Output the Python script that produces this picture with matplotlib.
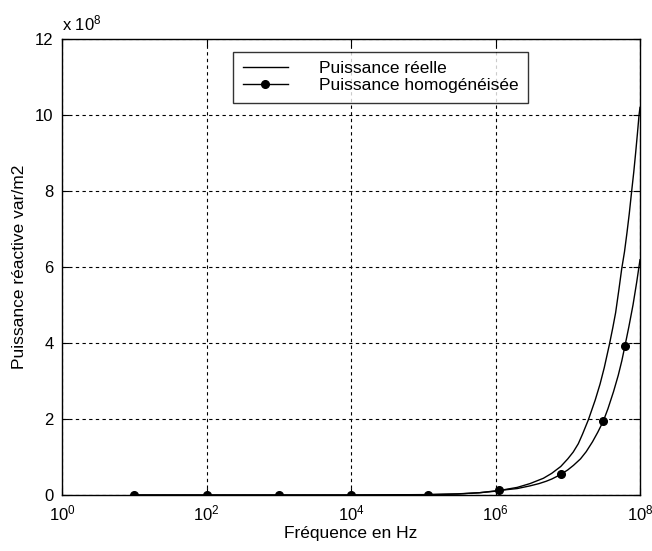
import math
import matplotlib
matplotlib.use("Agg")
import matplotlib.pyplot as plt
from matplotlib.ticker import FixedLocator, FuncFormatter, NullLocator

plt.rcParams['font.family'] = ['Liberation Sans', 'DejaVu Sans']
plt.rcParams['mathtext.fontset'] = 'custom'
plt.rcParams['mathtext.rm'] = 'Liberation Sans'
plt.rcParams['mathtext.it'] = 'Liberation Sans:italic'
plt.rcParams['mathtext.bf'] = 'Liberation Sans:bold'
plt.rcParams['mathtext.default'] = 'regular'

# ---- data ----
f_reelle = [1e1, 1e2, 1e3, 1e4, 1e5, 3e5, 6e5, 1e6, 2e6, 3e6, 4.6e6, 6e6, 8e6, 1e7,
            1.19e7, 1.4e7, 1.6e7, 1.93e7, 2.4e7, 2.8e7, 3.2e7, 3.76e7, 4.2e7, 4.6e7,
            5.1e7, 5.58e7, 6.1e7, 6.6e7, 7.1e7, 7.67e7, 8.2e7, 8.7e7, 9.2e7, 9.7e7, 1e8]
p_reelle = [0, 0, 0, 0, 0.01e8, 0.03e8, 0.06e8, 0.1e8, 0.2e8, 0.3e8, 0.44e8, 0.57e8,
            0.75e8, 0.95e8, 1.13e8, 1.35e8, 1.6e8, 1.98e8, 2.5e8, 2.92e8, 3.35e8, 3.95e8,
            4.4e8, 4.8e8, 5.4e8, 5.95e8, 6.4e8, 6.9e8, 7.4e8, 8.0e8, 8.5e8, 9.0e8,
            9.5e8, 10.0e8, 10.2e8]

f_homog = [1e1, 1e2, 1e3, 1e4, 1.15e5, 3e5, 6e5, 1.13e6, 2e6, 3e6, 4e6, 5e6, 6e6, 8e6,
           1e7, 1.2e7, 1.5e7, 1.8e7, 2.2e7, 2.6e7, 3.1e7, 3.6e7, 4.3e7, 5e7, 5.6e7,
           6.2e7, 7e7, 8e7, 9e7, 1e8]
p_homog = [0, 0, 0, 0, 0.007e8, 0.025e8, 0.06e8, 0.12e8, 0.17e8, 0.24e8, 0.3e8, 0.36e8,
           0.42e8, 0.54e8, 0.66e8, 0.78e8, 0.95e8, 1.14e8, 1.4e8, 1.65e8, 1.94e8, 2.27e8,
           2.72e8, 3.15e8, 3.53e8, 3.93e8, 4.42e8, 5.0e8, 5.6e8, 6.19e8]
marker_idx = [0, 1, 2, 3, 4, 7, 13, 20, 25]

x_ticks = [1e0, 1e2, 1e4, 1e6, 1e8]
y_ticks = [0, 2e8, 4e8, 6e8, 8e8, 10e8, 12e8]

labels = ['Puissance réelle', 'Puissance homogénéisée']
xlabel = 'Fréquence en Hz'
ylabel = 'Puissance réactive var/m2'

# ---- figure ----
fig = plt.figure(figsize=(6.52, 5.51), dpi=100)
ax = fig.add_axes([62/652, 56/551, 578/652, 456/551])

ax.plot(f_reelle, p_reelle, color='black', lw=1.0, label=labels[0])
ax.plot(f_homog, p_homog, color='black', lw=1.0, marker='o', markersize=5.5,
        markevery=marker_idx, label=labels[1])

ax.set_xscale('log')
ax.set_xlim(1e0, 1e8)
ax.set_ylim(0, 12e8)
ax.xaxis.set_major_locator(FixedLocator(x_ticks))
ax.xaxis.set_minor_locator(NullLocator())
ax.xaxis.set_major_formatter(FuncFormatter(lambda v, p: r'$10^{%d}$' % round(math.log10(v))))
ax.yaxis.set_major_locator(FixedLocator(y_ticks))
ax.yaxis.set_major_formatter(FuncFormatter(lambda v, p: '%d' % round(v / 1e8)))

ax.grid(True, color='black', linestyle=(0, (3, 3)), linewidth=0.8)
ax.tick_params(direction='in', top=True, right=True, length=5, width=0.8,
               labelsize=12, colors='black', pad=6)
for s in ax.spines.values():
    s.set_linewidth(1.0)
    s.set_color('black')

ax.set_xlabel(xlabel, fontsize=12.5, labelpad=2)
ax.set_ylabel(ylabel, fontsize=12.5, labelpad=6)

ax.text(0.0, 1.012, r'x $10^{8}$', transform=ax.transAxes, fontsize=12,
        ha='left', va='bottom')

leg = ax.legend(loc='upper left', bbox_to_anchor=(0.296, 0.972), borderaxespad=0,
                fontsize=12.5, frameon=True, fancybox=False, edgecolor='black',
                handlelength=2.6, handletextpad=1.8, labelspacing=0.1,
                borderpad=0.55)
leg.get_frame().set_linewidth(1.0)

fig.savefig('out.png', dpi=100, facecolor='white')
